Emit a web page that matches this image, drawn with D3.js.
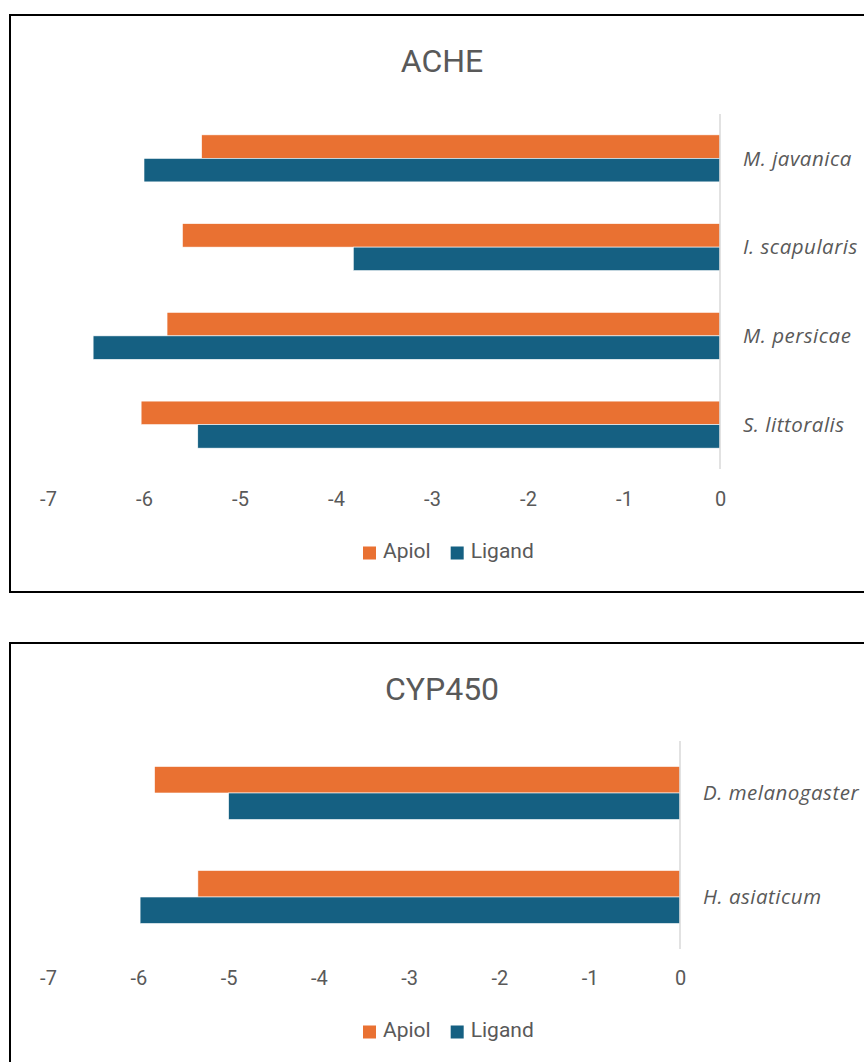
<!DOCTYPE html>
<html>
<head>
<meta charset="utf-8">
<script src="https://cdn.jsdelivr.net/npm/d3@7"></script>
<style>
  html, body { margin: 0; padding: 0; background: #fff; }
  svg { display: block; }
</style>
</head>
<body>
<svg id="chart" width="864" height="1062"></svg>
<script>
// ---- data ----
const seriesNames = ["Apiol", "Ligand"];
const seriesColors = ["#E97132", "#156082"];
const tickValues = [-7, -6, -5, -4, -3, -2, -1, 0];

const acheTitle = "ACHE";
const acheCategories = ["M. javanica", "I. scapularis", "M. persicae", "S. littoralis"];
const acheApiol = [-5.40, -5.60, -5.76, -6.03];
const acheLigand = [-6.00, -3.82, -6.53, -5.44];

const cypTitle = "CYP450";
const cypCategories = ["D. melanogaster", "H. asiaticum"];
const cypApiol = [-5.82, -5.34];
const cypLigand = [-5.00, -5.98];

const svg = d3.select("#chart");
const textColor = "#595959";
const uiFont = "Roboto, 'Liberation Sans', sans-serif";

function drawChart(cfg) {
  const g = svg.append("g");
  // frame
  g.append("rect")
    .attr("x", cfg.box[0]).attr("y", cfg.box[1])
    .attr("width", cfg.box[2]).attr("height", cfg.box[3])
    .attr("fill", "#fff").attr("stroke", "#000").attr("stroke-width", 2);

  // title
  g.append("text")
    .attr("x", cfg.titleX).attr("y", cfg.titleY)
    .attr("text-anchor", "middle")
    .attr("font-family", uiFont)
    .attr("font-size", 32)
    .attr("fill", textColor)
    .text(cfg.title);

  const x = d3.scaleLinear().domain([-7, 0]).range([cfg.xLeft, cfg.xZero]);
  const y = d3.scaleBand().domain(cfg.categories)
    .range([cfg.yTop, cfg.yBottom])
    .paddingInner(cfg.pad).paddingOuter(cfg.pad / 2);
  const ys = d3.scaleBand().domain(seriesNames).range([0, y.bandwidth()]);

  const rows = cfg.categories.map((c, i) => ({
    cat: c, values: [cfg.apiol[i], cfg.ligand[i]]
  }));

  const rowG = g.selectAll("g.row").data(rows).join("g")
    .attr("transform", d => `translate(0,${y(d.cat)})`);
  rowG.selectAll("rect").data(d => d.values.map((v, k) => ({ v, k })))
    .join("rect")
    .attr("x", d => x(d.v))
    .attr("width", d => x(0) - x(d.v))
    .attr("y", d => ys(seriesNames[d.k]))
    .attr("height", ys.bandwidth())
    .attr("fill", d => seriesColors[d.k])
    .attr("stroke", "#fff").attr("stroke-width", 0.6);

  // zero (category) axis line
  g.append("line")
    .attr("x1", x(0)).attr("x2", x(0))
    .attr("y1", cfg.yTop).attr("y2", cfg.yBottom)
    .attr("stroke", "#D9D9D9").attr("stroke-width", 1.5);

  // category labels to the right of the axis
  g.selectAll("text.cat").data(cfg.categories).join("text")
    .attr("class", "cat")
    .attr("x", x(0) + 23)
    .attr("y", d => y(d) + y.bandwidth() / 2)
    .attr("dy", "0.35em")
    .attr("font-family", "'Open Sans', sans-serif")
    .attr("font-style", "italic")
    .attr("font-size", 20.5)
    .attr("letter-spacing", 0.5)
    .attr("fill", textColor)
    .text(d => d);

  // value axis
  const axis = d3.axisBottom(x).tickValues(tickValues).tickSize(0).tickFormat(d => String(d));
  const axG = g.append("g")
    .attr("transform", `translate(0,${cfg.tickY})`)
    .call(axis);
  axG.select(".domain").remove();
  axG.selectAll("text")
    .attr("font-family", uiFont)
    .attr("font-size", 20)
    .attr("fill", textColor)
    .attr("dy", "0.35em")
    .attr("y", 0);
  axG.attr("font-family", null).attr("font-size", null);

  // legend
  const leg = g.append("g").attr("transform", `translate(${cfg.legendX},${cfg.legendY})`);
  let off = 0;
  seriesNames.forEach((s, k) => {
    leg.append("rect").attr("x", off).attr("y", -6.5).attr("width", 13).attr("height", 13)
      .attr("fill", seriesColors[k]);
    const t = leg.append("text")
      .attr("x", off + 20).attr("y", 4.5)
      .attr("font-family", uiFont)
      .attr("font-size", 21).attr("fill", textColor).text(s);
    off += 20 + t.node().getComputedTextLength() + 20;
  });
}

drawChart({
  box: [10, 15, 870, 577], title: acheTitle, titleX: 442, titleY: 72,
  categories: acheCategories, apiol: acheApiol, ligand: acheLigand,
  xLeft: 48, xZero: 720, yTop: 114, yBottom: 469, pad: 0.47,
  tickY: 499, legendX: 363, legendY: 553
});

drawChart({
  box: [10, 643, 870, 440], title: cypTitle, titleX: 442, titleY: 700,
  categories: cypCategories, apiol: cypApiol, ligand: cypLigand,
  xLeft: 48, xZero: 680, yTop: 741, yBottom: 949, pad: 0.49,
  tickY: 978, legendX: 363, legendY: 1032
});
</script>
</body>
</html>
